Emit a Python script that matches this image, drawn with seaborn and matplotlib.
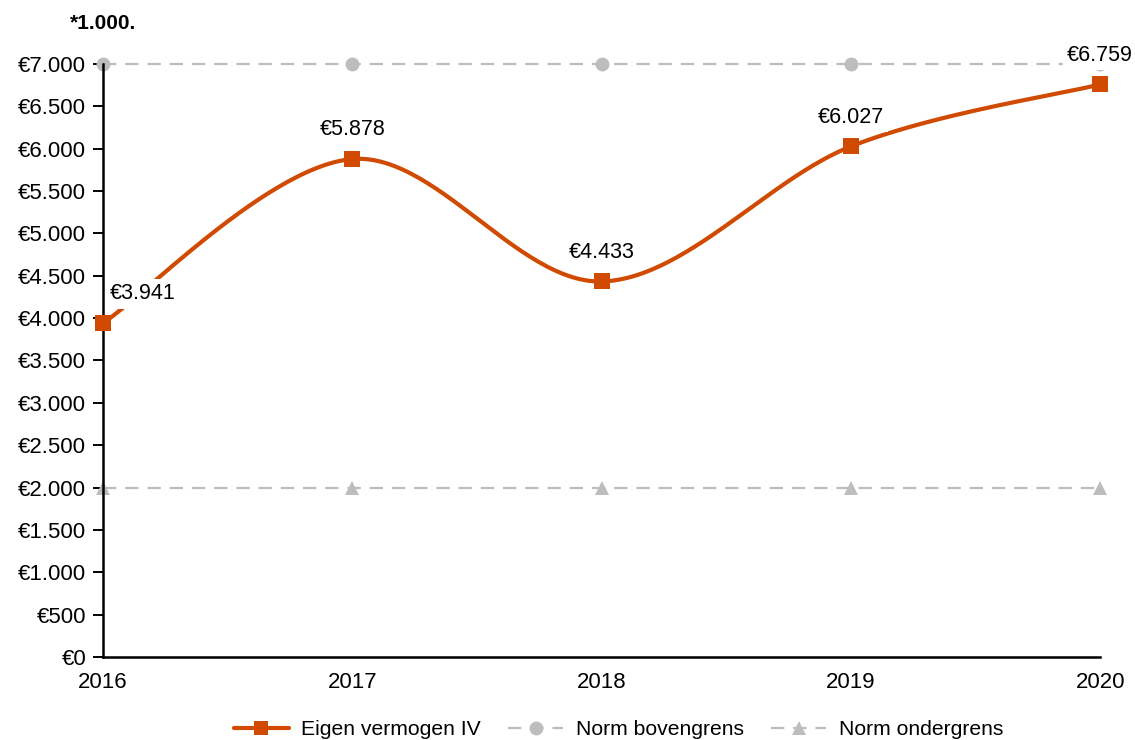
import numpy as np
import pandas as pd
import matplotlib
matplotlib.use("Agg")
import matplotlib.pyplot as plt
from matplotlib.lines import Line2D
import seaborn as sns

# Data (values in thousands of euros)
years = [2016, 2017, 2018, 2019, 2020]
eigen_vermogen = [3941, 5878, 4433, 6027, 6759]
norm_bovengrens = [7000, 7000, 7000, 7000, 7000]
norm_ondergrens = [2000, 2000, 2000, 2000, 2000]
y_ticks = list(range(0, 7001, 500))

ORANGE = "#D04A02"
GREY = "#BDBDBD"

sns.set_style("white")
plt.rcParams["font.family"] = ["Liberation Sans", "DejaVu Sans"]
plt.rcParams["text.color"] = "black"
plt.rcParams["xtick.color"] = "black"
plt.rcParams["ytick.color"] = "black"


def euro(v):
    return "€" + f"{int(v):,}".replace(",", ".")


def smooth_curve(x, y, n=60):
    """Catmull-Rom style smoothing through the given points."""
    x = np.asarray(x, float)
    y = np.asarray(y, float)
    px = np.concatenate([[x[0]], x, [x[-1]]])
    py = np.concatenate([[y[0]], y, [y[-1]]])
    xs, ys = [], []
    for i in range(1, len(px) - 2):
        p0x, p1x, p2x, p3x = px[i - 1], px[i], px[i + 1], px[i + 2]
        p0y, p1y, p2y, p3y = py[i - 1], py[i], py[i + 1], py[i + 2]
        c1x, c1y = p1x + (p2x - p0x) / 6, p1y + (p2y - p0y) / 6
        c2x, c2y = p2x - (p3x - p1x) / 6, p2y - (p3y - p1y) / 6
        t = np.linspace(0, 1, n)
        b0, b1, b2, b3 = (1 - t) ** 3, 3 * t * (1 - t) ** 2, 3 * t ** 2 * (1 - t), t ** 3
        xs.append(b0 * p1x + b1 * c1x + b2 * c2x + b3 * p2x)
        ys.append(b0 * p1y + b1 * c1y + b2 * c2y + b3 * p2y)
    return np.concatenate(xs), np.concatenate(ys)


fig = plt.figure(figsize=(11.35, 7.40), dpi=100)
ax = fig.add_axes([0.0907, 0.1122, 0.8786, 0.8013])

df = pd.DataFrame({"jaar": years, "eigen": eigen_vermogen,
                   "boven": norm_bovengrens, "onder": norm_ondergrens})

# Norm lines
sns.lineplot(data=df, x="jaar", y="boven", ax=ax, color=GREY, lw=1.6,
             dashes=False, linestyle=(0, (6, 4)), marker="o", markersize=10,
             markeredgewidth=0, legend=False, zorder=2, clip_on=False)
sns.lineplot(data=df, x="jaar", y="onder", ax=ax, color=GREY, lw=1.6,
             dashes=False, linestyle=(0, (6, 4)), marker="^", markersize=10,
             markeredgewidth=0, legend=False, zorder=2, clip_on=False)

# Smoothed equity line
sx, sy = smooth_curve(years, eigen_vermogen)
smooth_df = pd.DataFrame({"jaar": sx, "eigen": sy})
sns.lineplot(data=smooth_df, x="jaar", y="eigen", ax=ax, color=ORANGE, lw=3.0,
             sort=False, estimator=None, legend=False, zorder=3, clip_on=False)
sns.scatterplot(data=df, x="jaar", y="eigen", ax=ax, color=ORANGE, marker="s",
                s=130, linewidth=0, legend=False, zorder=4, clip_on=False)

# Data labels on a white box
offsets = {2016: (5, 21, "left"), 2017: (0, 21, "center"), 2018: (0, 21, "center"),
           2019: (0, 21, "center"), 2020: (0, 21, "center")}
for x, v in zip(years, eigen_vermogen):
    dx, dy, ha = offsets[x]
    ax.annotate(euro(v), (x, v), xytext=(dx, dy), textcoords="offset points",
                ha=ha, va="center", fontsize=15.5, color="black", zorder=6,
                annotation_clip=False,
                bbox=dict(boxstyle="square,pad=0.2", fc="white", ec="none"))

ax.set_xlim(2016, 2020)
ax.set_ylim(0, 7000)
ax.set_yticks(y_ticks)
ax.set_yticklabels([euro(v) for v in y_ticks])
ax.set_xticks(years)
ax.set_xticklabels([str(y) for y in years])
ax.set_xlabel("")
ax.set_ylabel("")
ax.tick_params(axis="y", which="both", left=True, length=7, width=1.4,
               labelsize=16, pad=5, color="black", labelcolor="black")
ax.tick_params(axis="x", bottom=False, labelsize=16, pad=7, labelcolor="black")
for side in ["top", "right"]:
    ax.spines[side].set_visible(False)
for side in ["left", "bottom"]:
    ax.spines[side].set_color("black")
    ax.spines[side].set_linewidth(1.8)
ax.grid(False)

fig.text(0.062, 0.968, "*1.000.", fontsize=15, fontweight="bold", ha="left", va="center",
         color="black")

# Legend along the bottom edge
handles = [
    Line2D([], [], color=ORANGE, lw=3.0, marker="s", markersize=10, markeredgewidth=0),
    Line2D([], [], color=GREY, lw=1.6, linestyle=(0, (6, 4)), marker="o", markersize=10, markeredgewidth=0),
    Line2D([], [], color=GREY, lw=1.6, linestyle=(0, (6, 4)), marker="^", markersize=10, markeredgewidth=0),
]
leg = ax.legend(handles, ["Eigen vermogen IV", "Norm bovengrens", "Norm ondergrens"],
                loc="center", bbox_to_anchor=(0.517, -0.123), bbox_transform=ax.transAxes,
                ncol=3, frameon=False, fontsize=15.2, handlelength=2.6, columnspacing=1.3,
                handletextpad=0.6, labelcolor="black")

fig.savefig("out.png", dpi=100)
